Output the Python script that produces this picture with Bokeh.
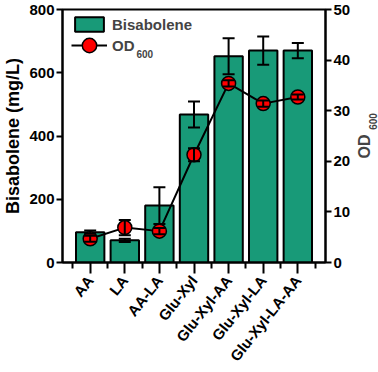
import math
from bokeh.plotting import figure
from bokeh.layouts import row
from bokeh.models import (Range1d, LinearAxis, FixedTicker, Whisker, TeeHead,
                          ColumnDataSource, Legend, LegendItem, Label)
from bokeh.embed import file_html
from bokeh.resources import INLINE

categories = ["AA", "LA", "AA-LA", "Glu-Xyl", "Glu-Xyl-AA", "Glu-Xyl-LA", "Glu-Xyl-LA-AA"]
bisabolene = [96, 70, 180, 468, 652, 670, 670]
bisabolene_err = [5, 5, 58, 41, 57, 45, 24]
od600 = [4.7, 6.9, 6.2, 21.3, 35.4, 31.4, 32.7]
od600_err = [0.6, 1.5, 0.6, 1.3, 0.6, 0.6, 0.5]
left_ticks = [0, 200, 400, 600, 800]
right_ticks = [0, 10, 20, 30, 40, 50]

xs = list(range(len(categories)))
src = ColumnDataSource(dict(
    x=xs, bis=bisabolene,
    bis_lo=[v - e for v, e in zip(bisabolene, bisabolene_err)],
    bis_hi=[v + e for v, e in zip(bisabolene, bisabolene_err)],
    od=od600,
    od_lo=[v - e for v, e in zip(od600, od600_err)],
    od_hi=[v + e for v, e in zip(od600, od600_err)],
))

FONT = "Liberation Sans"
FW, FH = 266, 253
W_MAIN, W_SIDE, H = 355, 23, 372
p = figure(width=W_MAIN, height=H, output_backend="svg", toolbar_location=None,
           x_range=Range1d(-0.8, 6.8), y_range=Range1d(0, 800),
           min_border_left=59, min_border_right=W_MAIN - 59 - FW, min_border_top=9,
           min_border_bottom=H - 9 - FH)
p.extra_y_ranges = {"od": Range1d(0, 50)}
p.grid.visible = False
p.outline_line_color = "black"
p.outline_line_width = 2
p.background_fill_color = "white"
p.border_fill_color = "white"

# bars
bars = p.vbar(x="x", top="bis", width=0.82, source=src, fill_color="#189a78",
              line_color="black", line_width=2)
w1 = Whisker(base="x", lower="bis_lo", upper="bis_hi", source=src, line_width=2,
             line_color="black", level="annotation",
             upper_head=TeeHead(size=12, line_width=2, line_color="black"),
             lower_head=TeeHead(size=12, line_width=2, line_color="black"))
p.add_layout(w1)

# OD line + markers
ln = p.line(x="x", y="od", source=src, y_range_name="od", line_color="black", line_width=2)
sc = p.scatter(x="x", y="od", source=src, y_range_name="od", size=14,
               fill_color="#ff0000", line_color="black", line_width=1.5)
w2 = Whisker(base="x", lower="od_lo", upper="od_hi", source=src, y_range_name="od",
             line_width=2, line_color="black", level="annotation",
             upper_head=TeeHead(size=12, line_width=2, line_color="black"),
             lower_head=TeeHead(size=12, line_width=2, line_color="black"))
p.add_layout(w2)

# axes
xa = p.xaxis[0]
xa.ticker = FixedTicker(ticks=xs, minor_ticks=[x - 0.5 for x in xs] + [xs[-1] + 0.5])
xa.major_label_overrides = {i: c for i, c in zip(xs, categories)}
xa.major_label_orientation = 0.9
xa.major_tick_out = 11
xa.major_tick_in = 0
xa.minor_tick_out = 6
xa.minor_tick_in = 0
xa.major_label_standoff = 4

ya = p.yaxis[0]
ya.ticker = FixedTicker(ticks=left_ticks, minor_ticks=[])
ya.axis_label = "Bisabolene (mg/L)"
ya.major_tick_out = 6
ya.major_tick_in = 0
ya.minor_tick_out = 0
ya.minor_tick_in = 0
ya.axis_label_standoff = 3
ya.major_label_standoff = 2

ra = LinearAxis(y_range_name="od", ticker=FixedTicker(ticks=right_ticks, minor_ticks=[]))
ra.major_tick_out = 6
ra.major_tick_in = 0
ra.minor_tick_out = 0
ra.minor_tick_in = 0
ra.major_label_standoff = 2
p.add_layout(ra, "right")

for ax in [xa, ya, ra]:
    ax.axis_line_width = 2
    ax.major_tick_line_width = 2
    ax.minor_tick_line_width = 2
    ax.axis_line_color = "black"
    ax.major_label_text_font = FONT
    ax.major_label_text_font_style = "bold"
    ax.major_label_text_font_size = "15px"
    ax.major_label_text_color = "black"
    ax.axis_label_text_font = FONT
    ax.axis_label_text_font_style = "bold"
    ax.axis_label_text_font_size = "18px"
    ax.axis_label_text_color = "black"

# legends
leg1 = Legend(items=[LegendItem(label="Bisabolene", renderers=[bars])],
              location=(9, FH - 6 - 18), glyph_width=36, glyph_height=18,
              padding=0, margin=0, border_line_color=None, background_fill_alpha=0,
              label_text_font=FONT, label_text_font_style="bold",
              label_text_font_size="15px", label_standoff=5)
leg2 = Legend(items=[LegendItem(label="OD", renderers=[ln, sc])],
              location=(9, FH - 18 - 36), glyph_width=36, glyph_height=36,
              padding=0, margin=0, border_line_color=None, background_fill_alpha=0,
              label_text_font=FONT, label_text_font_style="bold",
              label_text_font_size="15px", label_standoff=5)
p.add_layout(leg1)
p.add_layout(leg2)
p.add_layout(Label(x=74, y=FH - 44, x_units="screen", y_units="screen", text="600",
                   text_font=FONT, text_font_style="bold", text_font_size="10px",
                   text_baseline="middle", text_align="left"))

# side strip holding the right axis title OD600 (its frame aligns with the main frame)
p2 = figure(width=W_SIDE, height=H, output_backend="svg", toolbar_location=None,
            x_range=Range1d(0, 1), y_range=Range1d(0, 1), x_axis_type=None,
            y_axis_type=None, min_border=0)
p2.grid.visible = False
p2.outline_line_color = None
p2.border_fill_color = "white"
p2.add_layout(Label(x=8.5, y=116, x_units="screen", y_units="screen",
                    text="OD", angle=math.pi / 2, text_font=FONT, text_font_style="bold",
                    text_font_size="16px", text_align="center", text_baseline="middle"))
p2.add_layout(Label(x=17, y=141, x_units="screen", y_units="screen",
                    text="600", angle=math.pi / 2, text_font=FONT, text_font_style="bold",
                    text_font_size="10px", text_align="center", text_baseline="middle"))

layout = row(p, p2, spacing=0)
open("out.html", "w").write(file_html(layout, INLINE))
